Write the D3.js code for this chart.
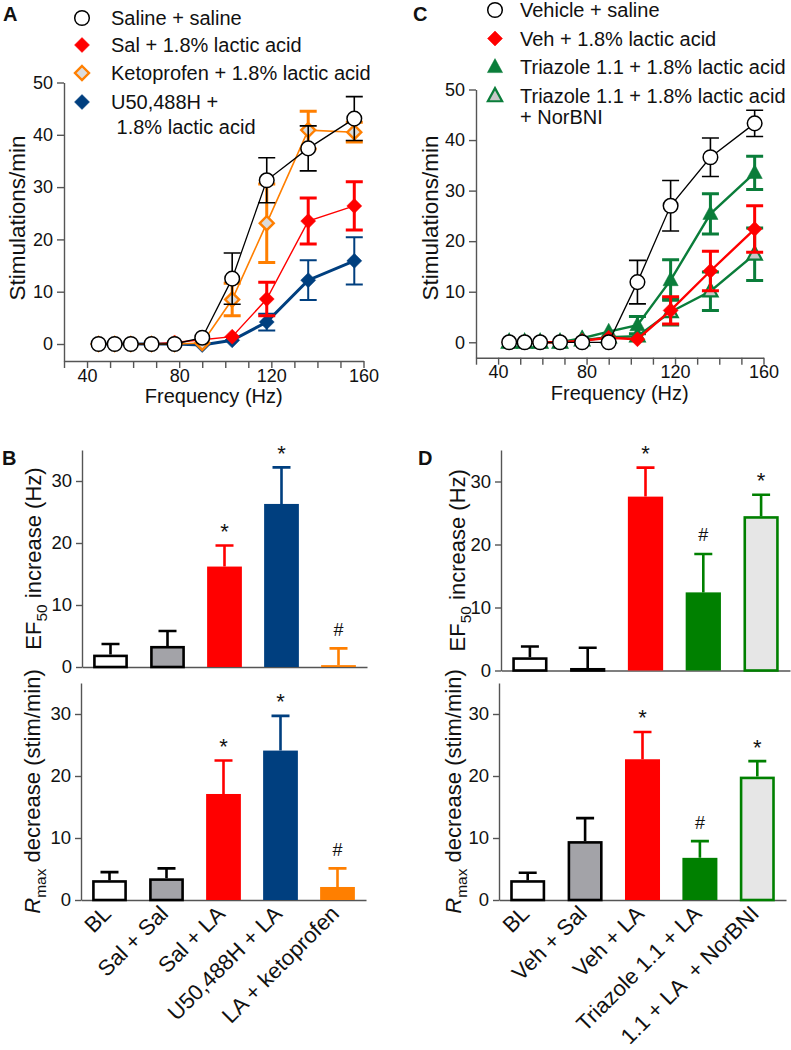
<!DOCTYPE html>
<html><head><meta charset="utf-8">
<script src="https://cdn.jsdelivr.net/npm/d3@7"></script>
<style>
body{margin:0;background:#fff}
svg{font-family:"Liberation Sans",Arial,Helvetica,sans-serif}
</style>
</head><body><svg id="c" width="791" height="1050"></svg>
<script>
// ---------------- DATA ----------------
const freqs = [45, 52, 59, 68, 78, 90, 103, 118, 136, 156];
const freqTicks = [30, 40, 50, 60, 70, 80, 90, 100, 110, 120, 130, 140, 150, 160];
const freqTickLabels = [40, 80, 120, 160];
const stimTicks = [0, 10, 20, 30, 40, 50];

// Panel A
const aSalineSaline    = [0, 0, 0, 0, 0, 1.2, 12.5, 31.3, 37.4, 43.1];
const aSalineSalineErr = [0, 0, 0, 0, 0, 0, 4.9, 4.3, 4.3, 4.2];
const aSalLA           = [0, 0, 0, 0, 0.3, 0.8, 1.4, 8.6, 23.5, 26.4];
const aSalLAErr        = [0, 0, 0, 0, 0, 0, 0, 3.2, 4.4, 4.6];
const aKeto            = [0, 0, 0, 0, 0, 0.2, 8.5, 23.1, 40.9, 40.5];
const aKetoErr         = [0, 0, 0, 0, 0, 0, 3.1, 7.5, 3.6, 1.9];
const aU50             = [0, 0, 0, 0, 0, -0.2, 0.7, 4.2, 12.2, 15.9];
const aU50Err          = [0, 0, 0, 0, 0, 0, 0, 1.6, 3.8, 4.5];
const aLegend = ["Saline + saline", "Sal + 1.8% lactic acid", "Ketoprofen + 1.8% lactic acid", "U50,488H +", " 1.8% lactic acid"];

// Panel C
const cVehSaline    = [0, 0, 0, 0, 0, 0, 11.9, 27.0, 36.6, 43.3];
const cVehSalineErr = [0, 0, 0, 0, 0, 0, 4.3, 5.0, 3.8, 2.6];
const cVehLA        = [0, 0, 0, 0, 0.3, 0.9, 0.6, 6.3, 14.1, 22.4];
const cVehLAErr     = [0, 0, 0, 0, 0, 0, 0, 2.7, 3.9, 4.6];
const cTri          = [0, 0, 0, 0, 0.8, 2.1, 3.4, 12.3, 25.4, 33.5];
const cTriErr       = [0, 0, 0, 0, 0, 0, 1.7, 4.0, 4.0, 3.3];
const cTriNor       = [0, 0, 0, 0, 0.4, 1.0, 1.2, 6.0, 10.1, 17.4];
const cTriNorErr    = [0, 0, 0, 0, 0, 0, 0, 2.6, 3.8, 5.2];
const cLegend = ["Vehicle + saline", "Veh + 1.8% lactic acid", "Triazole 1.1 + 1.8% lactic acid", "Triazole 1.1 + 1.8% lactic acid", "+ NorBNI"];

// Panel B
const bCategories = ["BL", "Sal + Sal", "Sal + LA", "U50,488H + LA", "LA + ketoprofen"];
const bEF50     = [2.0, 3.4, 16.2, 26.3, 0.3];
const bEF50Err  = [1.7, 2.4, 3.4, 5.9, 2.7];
const bEF50Sig  = ["", "", "*", "*", "#"];
const bRmax     = [3.2, 3.5, 17.1, 24.1, 2.1];
const bRmaxErr  = [1.3, 1.6, 5.4, 5.6, 3.0];
const bRmaxSig  = ["", "", "*", "*", "#"];

// Panel D
const dCategories = ["BL", "Veh + Sal", "Veh + LA", "Triazole 1.1 + LA", "1.1 + LA  + NorBNI"];
const dEF50     = [2.1, 0.4, 27.6, 12.4, 24.5];
const dEF50Err  = [1.7, 3.2, 4.6, 6.1, 3.4];
const dEF50Sig  = ["", "", "*", "#", "*"];
const dRmax     = [3.2, 9.5, 22.7, 6.8, 19.9];
const dRmaxErr  = [1.2, 3.7, 4.4, 2.7, 2.5];
const dRmaxSig  = ["", "", "*", "#", "*"];
const barTicks = [0, 10, 20, 30];

// ---------------- STYLES ----------------
const RED = "#ff0000", ORANGE = "#ff7f00", NAVY = "#003f7f", GREEN = "#0a7d3a", GREEN_BAR = "#008000";
const AXIS = "#555";

const svg = d3.select("#c");

function markerPath(type, s) {
  if (type === "circle") return d3.symbol().type(d3.symbolCircle).size(Math.PI * s * s)();
  if (type === "diamond") return `M0,${-s}L${s},0L0,${s}L${-s},0Z`;
  if (type === "triangle") return `M0,${-s * 1.05}L${s * 0.95},${s * 0.7}L${-s * 0.95},${s * 0.7}Z`;
}

function styleAxis(g, fs) {
  g.select(".domain").attr("stroke", AXIS).attr("stroke-width", 1.4);
  g.selectAll(".tick line").attr("stroke", AXIS).attr("stroke-width", 1.4);
  g.selectAll(".tick text").attr("fill", "#111").attr("font-size", fs)
    .attr("font-family", '"Liberation Sans",Arial,sans-serif');
  g.selectAll(".tick text").filter(function () { return this.textContent === ""; }).remove();
}

function drawLinePanel(p) {
  const g = svg.append("g");
  const x = d3.scaleLinear([30, 160], p.xRange);
  const y = d3.scaleLinear([p.yMin, 50], p.yRange);
  const ya = g.append("g").attr("transform", `translate(${p.xRange[0]},0)`)
    .call(d3.axisLeft(y).tickValues(stimTicks).tickSize(7).tickSizeOuter(0).tickPadding(4));
  styleAxis(ya, 18);
  const xa = g.append("g").attr("transform", `translate(0,${p.yRange[0]})`)
    .call(d3.axisBottom(x).tickValues(freqTicks).tickSize(7).tickSizeOuter(0).tickPadding(1)
      .tickFormat(d => freqTickLabels.includes(d) ? d : ""));
  styleAxis(xa, 18);
  g.append("text").attr("x", (p.xRange[0] + p.xRange[1]) / 2).attr("y", p.xLabelY)
    .attr("text-anchor", "middle").attr("font-size", 20).attr("fill", "#111").text("Frequency (Hz)");
  g.append("text").attr("transform", `translate(${p.yLabelX},${p.yLabelY}) rotate(-90)`)
    .attr("text-anchor", "middle").attr("font-size", 22.5).attr("fill", "#111").text("Stimulations/min");

  p.series.forEach(s => {
    const idx = d3.range(freqs.length);
    const line = d3.line().x(i => x(freqs[i])).y(i => y(s.values[i]));
    g.append("path").attr("d", line(idx)).attr("fill", "none")
      .attr("stroke", s.color).attr("stroke-width", s.lw);
    const eb = idx.filter(i => s.errs[i] > 0);
    const eg = g.append("g").attr("stroke", s.color).attr("stroke-width", s.ew).attr("fill", "none");
    eg.selectAll("path.e").data(eb).join("path")
      .attr("d", i => {
        const cx = x(freqs[i]), t = y(s.values[i] + s.errs[i]), b = y(s.values[i] - s.errs[i]), c = 8.5;
        return `M${cx},${t}V${b}M${cx - c},${t}H${cx + c}M${cx - c},${b}H${cx + c}`;
      });
    g.selectAll(null).data(idx).join("path")
      .attr("transform", i => `translate(${x(freqs[i])},${y(s.values[i])})`)
      .attr("d", markerPath(s.marker, s.size))
      .attr("fill", s.fill).attr("stroke", s.stroke).attr("stroke-width", s.sw);
  });

  // legend
  const lg = g.append("g");
  p.legend.forEach((row) => {
    if (row.series) {
      const s = row.series;
      lg.append("path").attr("transform", `translate(${p.legendX},${row.y})`)
        .attr("d", markerPath(s.marker, s.size)).attr("fill", s.fill).attr("stroke", s.stroke).attr("stroke-width", s.sw);
    }
    lg.append("text").attr("x", row.tx).attr("y", row.y + 7).attr("font-size", 20).attr("fill", "#111")
      .attr("xml:space", "preserve").style("white-space", "pre").text(row.text);
  });
  g.append("text").attr("x", p.letter[1]).attr("y", p.letter[2]).attr("font-size", 20)
    .attr("font-weight", "bold").attr("fill", "#111").text(p.letter[0]);
}

function drawBarPanel(p) {
  const g = svg.append("g");
  const x = d3.scaleBand(p.categories, p.xRange).paddingInner(0.39).paddingOuter(0.195);
  const y = d3.scaleLinear([0, 35], p.yRange);
  const ya = g.append("g").attr("transform", `translate(${p.xRange[0]},0)`)
    .call(d3.axisLeft(y).tickValues(barTicks).tickSize(6).tickSizeOuter(0).tickPadding(4));
  styleAxis(ya, 18.5);
  const xa = g.append("g").attr("transform", `translate(0,${p.yRange[0]})`)
    .call(d3.axisBottom(x).tickSize(0).tickSizeOuter(0).tickFormat(""));
  styleAxis(xa, 18);

  p.categories.forEach((c, i) => {
    const st = p.styles[i];
    const cx = x(c) + x.bandwidth() / 2, w = x.bandwidth();
    const top = y(p.values[i]), base = y(0);
    const et = y(p.values[i] + p.errs[i]);
    g.append("path").attr("d", `M${cx},${top}V${et}M${cx - 9},${et}H${cx + 9}`)
      .attr("stroke", st.err).attr("stroke-width", 2.6).attr("fill", "none");
    const sw = st.stroke ? 2.6 : 0;
    g.append("rect").attr("x", cx - w / 2 + sw / 2).attr("width", w - sw)
      .attr("y", top + sw / 2).attr("height", Math.max(0, base - top - sw / 2))
      .attr("fill", st.fill).attr("stroke", st.stroke || "none").attr("stroke-width", sw);
    const sig = p.sig[i];
    if (sig) {
      const cy = et - 19;
      g.append("text").attr("x", cx).attr("y", sig === "*" ? cy + 12.5 : cy + 6.5)
        .attr("text-anchor", "middle").attr("font-size", sig === "*" ? 22 : 18).attr("fill", "#111").text(sig);
    }
    if (p.showLabels) {
      g.append("text").attr("transform", `translate(${cx + 3},${base + 15}) rotate(-45)`)
        .attr("text-anchor", "end").attr("font-size", 22).attr("fill", "#111")
        .attr("xml:space", "preserve").style("white-space", "pre").text(c);
    }
  });

  const yl = g.append("text").attr("transform", `translate(${p.yLabelX},${(p.yRange[0] + p.yRange[1]) / 2}) rotate(-90)`)
    .attr("text-anchor", "middle").attr("font-size", 22).attr("fill", "#111");
  p.yLabel.forEach(part => {
    const t = yl.append("tspan").text(part.t);
    if (part.italic) t.attr("font-style", "italic");
    if (part.sub) t.attr("font-size", 15.5).attr("dy", 6);
    if (part.after) t.attr("dy", -6);
  });
  if (p.letter) g.append("text").attr("x", p.letter[1]).attr("y", p.letter[2]).attr("font-size", 20)
    .attr("font-weight", "bold").attr("fill", "#111").text(p.letter[0]);
}

// ---------------- PANEL A ----------------
const sA = {
  u50:  {values: aU50, errs: aU50Err, color: NAVY, lw: 3, ew: 2, marker: "diamond", size: 7.5, fill: NAVY, stroke: NAVY, sw: 0.5},
  red:  {values: aSalLA, errs: aSalLAErr, color: RED, lw: 1.4, ew: 3, marker: "diamond", size: 7.5, fill: RED, stroke: RED, sw: 0.5},
  keto: {values: aKeto, errs: aKetoErr, color: ORANGE, lw: 1.6, ew: 3, marker: "diamond", size: 7, fill: "#dcdcdc", stroke: ORANGE, sw: 2.4},
  sal:  {values: aSalineSaline, errs: aSalineSalineErr, color: "#000", lw: 1.3, ew: 1.6, marker: "circle", size: 7.3, fill: "#fff", stroke: "#000", sw: 1.5}
};
drawLinePanel({
  xRange: [64, 363.5], yRange: [361, 82.5], yMin: -3.25,
  xLabelY: 403, yLabelX: 25, yLabelY: 218,
  series: [sA.u50, sA.red, sA.keto, sA.sal],
  legendX: 82,
  legend: [
    {series: sA.sal, y: 18, tx: 111, text: aLegend[0]},
    {series: sA.red, y: 45, tx: 111, text: aLegend[1]},
    {series: sA.keto, y: 73, tx: 111, text: aLegend[2]},
    {series: sA.u50, y: 102, tx: 111, text: aLegend[3]},
    {series: null, y: 127, tx: 111, text: aLegend[4]}
  ],
  letter: ["A", 3, 21]
});

// ---------------- PANEL C ----------------
const sC = {
  nor: {values: cTriNor, errs: cTriNorErr, color: GREEN, lw: 2.4, ew: 3, marker: "triangle", size: 7.5, fill: "#c8c8c8", stroke: GREEN, sw: 2.2},
  tri: {values: cTri, errs: cTriErr, color: GREEN, lw: 2.4, ew: 3, marker: "triangle", size: 8, fill: GREEN, stroke: GREEN, sw: 0.5},
  red: {values: cVehLA, errs: cVehLAErr, color: RED, lw: 2.4, ew: 3, marker: "diamond", size: 7.5, fill: RED, stroke: RED, sw: 0.5},
  sal: {values: cVehSaline, errs: cVehSalineErr, color: "#000", lw: 1.3, ew: 1.6, marker: "circle", size: 7.3, fill: "#fff", stroke: "#000", sw: 1.5}
};
drawLinePanel({
  xRange: [476, 763.5], yRange: [357.7, 89.5], yMin: -3.05,
  xLabelY: 400, yLabelX: 437.5, yLabelY: 218,
  series: [sC.nor, sC.tri, sC.red, sC.sal],
  legendX: 495,
  legend: [
    {series: sC.sal, y: 10, tx: 520, text: cLegend[0]},
    {series: sC.red, y: 38.5, tx: 520, text: cLegend[1]},
    {series: sC.tri, y: 67, tx: 520, text: cLegend[2]},
    {series: sC.nor, y: 96, tx: 520, text: cLegend[3]},
    {series: null, y: 117, tx: 520, text: cLegend[4]}
  ],
  letter: ["C", 413, 21]
});

// ---------------- PANEL B ----------------
const bStyles = [
  {fill: "#fff", stroke: "#000", err: "#000"},
  {fill: "#a3a3a8", stroke: "#000", err: "#000"},
  {fill: RED, err: RED},
  {fill: NAVY, err: NAVY},
  {fill: ORANGE, err: ORANGE}
];
const efLabel = [{t: "EF"}, {t: "50", sub: true}, {t: " increase (Hz)", after: true}];
const rmaxLabel = [{t: "R", italic: true}, {t: "max", sub: true}, {t: " decrease (stim/min)", after: true}];
drawBarPanel({categories: bCategories, values: bEF50, errs: bEF50Err, sig: bEF50Sig, styles: bStyles,
  xRange: [82, 367], yRange: [667, 450], yLabelX: 41, yLabel: efLabel, letter: ["B", 2, 465]});
drawBarPanel({categories: bCategories, values: bRmax, errs: bRmaxErr, sig: bRmaxSig, styles: bStyles,
  xRange: [81, 366], yRange: [900, 683], yLabelX: 40, yLabel: rmaxLabel, showLabels: true});

// ---------------- PANEL D ----------------
const dStyles = [
  {fill: "#fff", stroke: "#000", err: "#000"},
  {fill: "#a3a3a8", stroke: "#000", err: "#000"},
  {fill: RED, err: RED},
  {fill: GREEN_BAR, err: GREEN_BAR},
  {fill: "#e6e6e6", stroke: GREEN_BAR, err: GREEN_BAR}
];
drawBarPanel({categories: dCategories, values: dEF50, errs: dEF50Err, sig: dEF50Sig, styles: dStyles,
  xRange: [501, 790], yRange: [670.5, 450], yLabelX: 465, yLabel: efLabel, letter: ["D", 418, 465]});
drawBarPanel({categories: dCategories, values: dRmax, errs: dRmaxErr, sig: dRmaxSig, styles: dStyles,
  xRange: [499, 786], yRange: [900, 683], yLabelX: 461, yLabel: rmaxLabel, showLabels: true});
</script>
</body></html>
